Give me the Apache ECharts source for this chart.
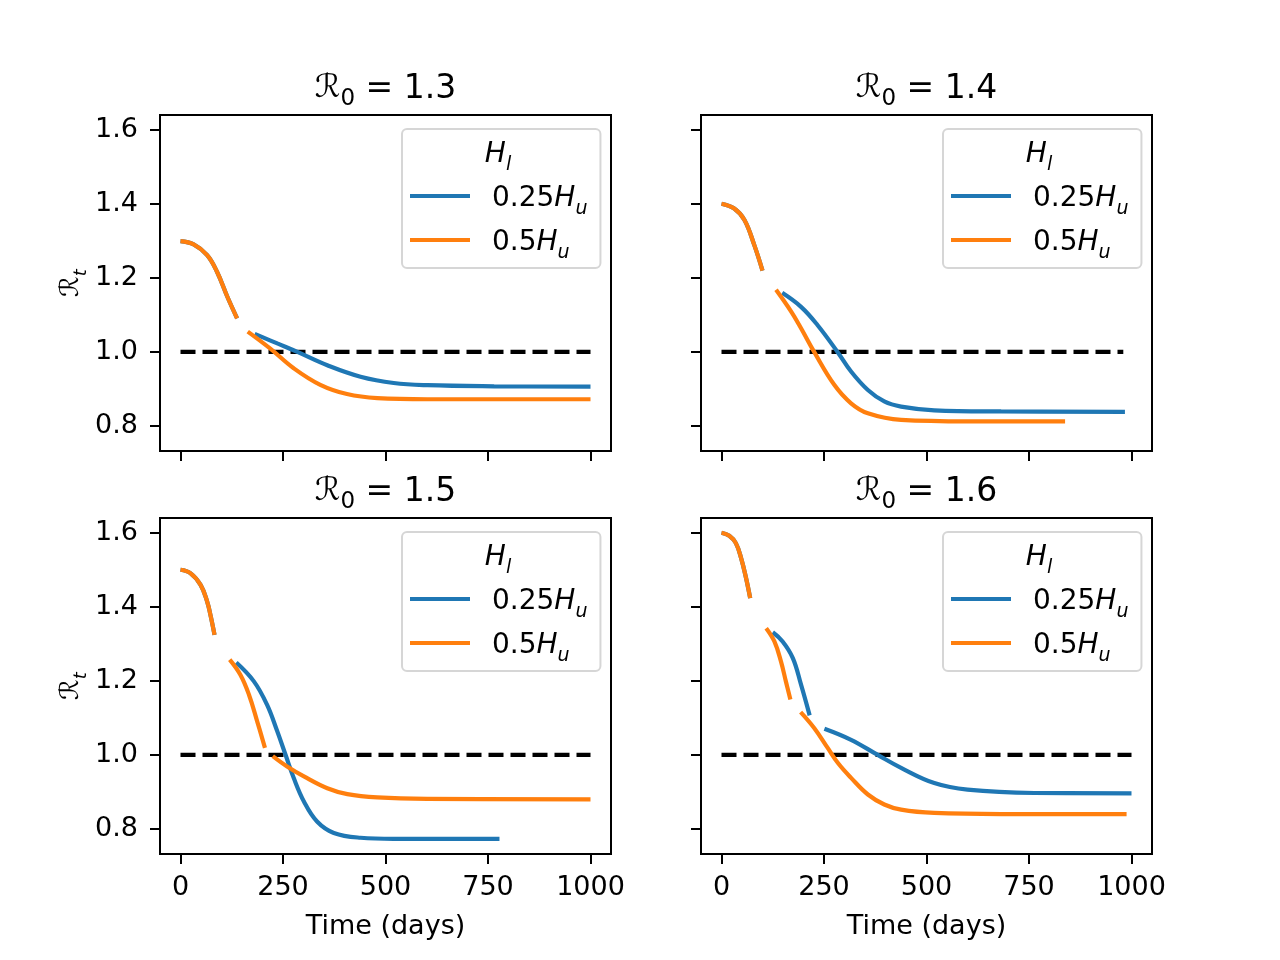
<!DOCTYPE html>
<html>
<head>
<meta charset="utf-8">
<script src="https://cdn.jsdelivr.net/npm/echarts@6/dist/echarts.min.js"></script>
<style>
html, body { margin: 0; padding: 0; background: #fff; }
#chart { width: 1280px; height: 960px; }
</style>
</head>
<body>
<div id="chart"></div>
<script>
// panel titles (R0 values) and ticks
var r0Values = ['1.3', '1.4', '1.5', '1.6'];
var xTicks = [0, 250, 500, 750, 1000];
var yTicks = [0.8, 1.0, 1.2, 1.4, 1.6];
var legendNames = ['0.25', '0.5'];
var thresholdEnd = [1000, 980, 1000, 1000];

// curve segments, [day, R_t]
var blue13 = [
    [[0, 1.300], [32, 1.291], [65, 1.262], [89, 1.217], [114, 1.150], [138, 1.091]],
    [[181, 1.049], [236, 1.023], [285, 1.000], [358, 0.964], [439, 0.933], [520, 0.916], [602, 0.910], [765, 0.907], [1000, 0.906]]
];
var orange13 = [
    [[0, 1.300], [32, 1.291], [65, 1.262], [89, 1.217], [114, 1.150], [138, 1.091]],
    [[164, 1.055], [219, 1.009], [276, 0.956], [341, 0.911], [406, 0.886], [480, 0.875], [602, 0.872], [1000, 0.872]]
];
var blue14 = [
    [[0, 1.401], [31, 1.388], [56, 1.357], [80, 1.289], [100, 1.220]],
    [[148, 1.160], [194, 1.122], [234, 1.073], [283, 1.000], [316, 0.947], [357, 0.897], [397, 0.866], [438, 0.852], [519, 0.842], [682, 0.839], [984, 0.838]]
];
var orange14 = [
    [[0, 1.401], [31, 1.388], [56, 1.357], [80, 1.289], [100, 1.220]],
    [[133, 1.168], [170, 1.109], [194, 1.064], [226, 1.000], [275, 0.911], [316, 0.861], [357, 0.834], [438, 0.816], [600, 0.812], [838, 0.812]]
];
var blue15 = [
    [[0, 1.501], [24, 1.492], [49, 1.460], [65, 1.415], [73, 1.379], [83, 1.325]],
    [[136, 1.250], [179, 1.199], [211, 1.136], [236, 1.064], [256, 1.001], [276, 0.938], [301, 0.874], [333, 0.820], [374, 0.789], [439, 0.776], [520, 0.773], [778, 0.773]]
];
var orange15 = [
    [[0, 1.501], [24, 1.492], [49, 1.460], [65, 1.415], [73, 1.379], [83, 1.325]],
    [[120, 1.258], [146, 1.217], [167, 1.163], [187, 1.091], [206, 1.019]],
    [[225, 0.997], [260, 0.969], [301, 0.942], [358, 0.910], [407, 0.894], [480, 0.885], [602, 0.881], [1000, 0.880]]
];
var blue16 = [
    [[0, 1.601], [19, 1.593], [35, 1.573], [48, 1.532], [60, 1.478], [70, 1.424]],
    [[125, 1.332], [149, 1.307], [174, 1.262], [194, 1.190], [215, 1.107]],
    [[251, 1.071], [316, 1.041], [381, 1.000], [438, 0.965], [519, 0.924], [600, 0.906], [763, 0.897], [1000, 0.896]]
];
var orange16 = [
    [[0, 1.601], [19, 1.593], [35, 1.573], [48, 1.532], [60, 1.478], [70, 1.424]],
    [[109, 1.343], [129, 1.307], [145, 1.253], [157, 1.199], [168, 1.150]],
    [[193, 1.116], [226, 1.073], [259, 1.019], [284, 0.978], [316, 0.938], [357, 0.893], [397, 0.866], [438, 0.852], [519, 0.843], [682, 0.840], [988, 0.840]]
];

var blueCurves = [blue13, blue14, blue15, blue16];
var orangeCurves = [orange13, orange14, orange15, orange16];

var BLUE = '#1f77b4', ORANGE = '#ff7f0e';
var FONT = 'DejaVu Sans';
var panels = [
    { left: 160, top: 115 },
    { left: 701, top: 115 },
    { left: 160, top: 518 },
    { left: 701, top: 518 }
];
var PW = 451, PH = 336;

var mathRich = {
    n: { fontFamily: FONT, fontSize: 28, color: '#000', lineHeight: 30, padding: [4, 0, 0, 0], verticalAlign: 'top' },
    h: { fontFamily: FONT, fontSize: 28, fontStyle: 'italic', color: '#000', lineHeight: 30, padding: [4, 0, 0, 0], verticalAlign: 'top' },
    sub: { fontFamily: FONT, fontSize: 19, fontStyle: 'italic', color: '#000', lineHeight: 19, padding: [19, 0, 0, 0], verticalAlign: 'top' },
    s: { width: 17 }
};

var grids = [], xAxes = [], yAxes = [], series = [], legends = [], graphics = [];

panels.forEach(function(p, i) {
    var bottomRow = i >= 2, leftCol = i % 2 === 0;
    grids.push({
        left: p.left, top: p.top, width: PW, height: PH,
        show: true, borderColor: '#000', borderWidth: 2, backgroundColor: '#fff'
    });
    xAxes.push({
        type: 'value', gridIndex: i, min: -50, max: 1050,
        splitLine: { show: false },
        axisLine: { show: false, onZero: false },
        axisTick: { show: true, length: 10, customValues: xTicks, lineStyle: { color: '#000', width: 2 } },
        axisLabel: {
            show: bottomRow, customValues: xTicks, margin: 20,
            fontFamily: FONT, fontSize: 27, color: '#000',
            formatter: function(v) { return String(v); }
        },
        name: bottomRow ? 'Time (days)' : '',
        nameLocation: 'middle', nameGap: 59,
        nameTextStyle: { fontFamily: FONT, fontSize: 27, color: '#000' }
    });
    yAxes.push({
        type: 'value', gridIndex: i, min: 0.732, max: 1.641,
        splitLine: { show: false },
        axisLine: { show: false, onZero: false },
        axisTick: { show: true, length: 10, customValues: yTicks, lineStyle: { color: '#000', width: 2 } },
        axisLabel: {
            show: leftCol, customValues: yTicks, margin: 22,
            fontFamily: FONT, fontSize: 27, color: '#000',
            formatter: function(v) { return v.toFixed(1); }
        },
        name: leftCol ? '{r|ℛ}{sub|t}' : '',
        nameLocation: 'middle', nameGap: 74, nameRotate: 90,
        nameTextStyle: {
            rich: {
                r: { fontFamily: FONT, fontSize: 26, color: '#000', lineHeight: 28, verticalAlign: 'top' },
                sub: { fontFamily: FONT, fontSize: 18, fontStyle: 'italic', color: '#000', lineHeight: 18, padding: [14, 0, 0, 0], verticalAlign: 'top' }
            }
        }
    });

    // threshold R_t = 1
    series.push({
        type: 'line', xAxisIndex: i, yAxisIndex: i,
        data: [[0, 1], [thresholdEnd[i], 1]],
        symbol: 'none', silent: true, z: 3,
        lineStyle: { color: '#000', width: 4.2, type: [15, 7] }
    });

    var addCurve = function(segs, name, color, z) {
        segs.forEach(function(seg) {
            series.push({
                type: 'line', name: name, xAxisIndex: i, yAxisIndex: i,
                data: seg, symbol: 'none', showSymbol: false, smooth: 0.4,
                silent: true, z: z,
                lineStyle: { color: color, width: 4.2 },
                itemStyle: { color: color }
            });
        });
    };
    addCurve(blueCurves[i], legendNames[0], BLUE, 4);
    addCurve(orangeCurves[i], legendNames[1], ORANGE, 5);

    var lx = p.left + 242, ly = p.top + 14;
    legends.push({
        data: legendNames, orient: 'vertical', left: lx, top: ly,
        padding: [52, 13, 5, 8], itemGap: 6, itemWidth: 60, itemHeight: 4,
        icon: 'rect',
        borderColor: '#d6d6d6', borderWidth: 2, borderRadius: 5, backgroundColor: '#fff',
        selectedMode: false,
        textStyle: { fontFamily: FONT, fontSize: 28, color: '#000', rich: mathRich },
        formatter: function(name) { return '{s| }{n|' + name + '}{h|H}{sub|u}'; }
    });

    // legend title H_l
    graphics.push({
        type: 'text', x: p.left + 338, y: p.top + 37, z: 100,
        style: {
            text: '{h|H}{sub|l}', align: 'center', verticalAlign: 'middle',
            rich: mathRich
        }
    });

    // panel title
    graphics.push({
        type: 'text', x: p.left + PW / 2, y: p.top - 25, z: 100,
        style: {
            text: '{r|ℛ}{sub|0}{t| = ' + r0Values[i] + '}', align: 'center', verticalAlign: 'middle',
            rich: {
                r: { fontFamily: FONT, fontSize: 32, color: '#000', lineHeight: 34, verticalAlign: 'top' },
                sub: { fontFamily: FONT, fontSize: 23, color: '#000', lineHeight: 23, padding: [15, 0, 0, 0], verticalAlign: 'top' },
                t: { fontFamily: FONT, fontSize: 33, color: '#000', lineHeight: 34, verticalAlign: 'top' }
            }
        }
    });
});

var chart = echarts.init(document.getElementById('chart'), null, { renderer: 'canvas' });
chart.setOption({
    animation: false,
    backgroundColor: '#fff',
    grid: grids,
    xAxis: xAxes,
    yAxis: yAxes,
    legend: legends,
    series: series,
    graphic: graphics
});
</script>
</body>
</html>
